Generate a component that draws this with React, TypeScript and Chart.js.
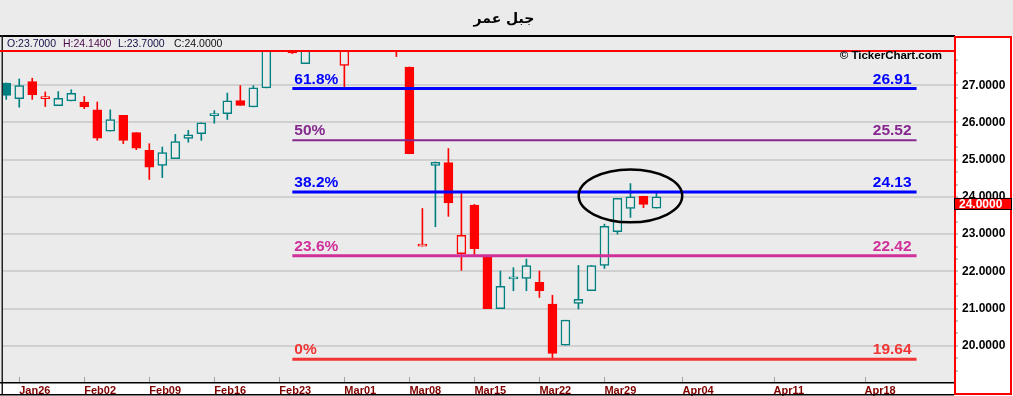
import React, { useEffect, useRef } from 'react';
import { Chart, registerables } from 'chart.js';

Chart.register(...registerables);

// ---------- data ----------
const TITLE = 'جبل عمر';
const CREDIT = '© TickerChart.com';

// one entry per trading day, index 0 = Jan23
const OPEN = [
  27.06, 26.64, 27.10, 26.64, 26.45, 26.58, 26.55, 26.34, 25.77, 26.19,
  25.73, 25.25, 24.85, 25.03, 25.57, 25.70, 26.18, 26.24, 26.59, 26.42,
  26.93, 28.30, 28.50, 27.58, 28.30, 28.70, 27.53, 28.20, 28.80, 29.00,
  28.60, 27.49, 22.68, 24.85, 24.92, 22.48, 23.78, 22.39, 21.00, 21.80,
  21.81, 21.71, 21.12, 20.02, 21.14, 21.48, 22.16, 23.07, 23.69, 24.02,
  23.70,
];
const HIGH = [
  27.06, 27.17, 27.19, 26.82, 26.83, 26.88, 26.70, 26.55, 26.34, 26.19,
  25.73, 25.43, 25.34, 25.68, 25.79, 25.99, 26.32, 26.79, 26.99, 26.99,
  28.30, 28.90, 28.60, 28.30, 28.80, 29.00, 28.40, 28.90, 29.20, 29.30,
  28.70, 27.49, 23.69, 24.94, 25.30, 24.09, 23.80, 22.39, 22.01, 22.10,
  22.33, 22.01, 21.36, 20.69, 22.16, 22.16, 23.27, 23.96, 24.36, 24.02,
  24.14,
];
const LOW = [
  26.62, 26.41, 26.62, 26.43, 26.45, 26.58, 26.37, 25.52, 25.77, 25.43,
  25.27, 24.47, 24.52, 25.03, 25.47, 25.52, 25.98, 26.08, 26.46, 26.42,
  26.93, 28.10, 27.85, 27.58, 28.10, 28.30, 26.94, 28.10, 28.50, 28.40,
  27.77, 25.16, 22.68, 23.20, 23.48, 22.03, 22.44, 21.00, 21.00, 21.48,
  21.48, 21.30, 19.64, 20.02, 20.99, 21.48, 22.08, 23.00, 23.45, 23.71,
  23.70,
];
const CLOSE = [
  26.73, 26.99, 26.75, 26.64, 26.65, 26.78, 26.42, 25.58, 26.08, 25.52,
  25.31, 24.80, 25.19, 25.49, 25.67, 25.99, 26.24, 26.58, 26.46, 26.93,
  28.20, 28.60, 27.87, 28.20, 28.70, 28.50, 28.20, 28.80, 29.00, 28.60,
  28.00, 25.16, 22.68, 24.93, 23.84, 22.97, 22.61, 21.00, 21.60, 21.80,
  22.16, 21.48, 19.80, 20.69, 21.25, 22.16, 23.21, 23.96, 24.00, 23.80,
  24.00,
];
const PREV_CLOSE = 26.60;

const X_TICK_POS = [1, 6, 11, 16, 21, 26, 31, 36, 41, 46, 52, 59, 66];
const X_TICK_LABELS = [
  'Jan26', 'Feb02', 'Feb09', 'Feb16', 'Feb23', 'Mar01', 'Mar08',
  'Mar15', 'Mar22', 'Mar29', 'Apr04', 'Apr11', 'Apr18',
];

const FIB_LABELS = ['61.8%', '50%', '38.2%', '23.6%', '0%'];
const FIB_VALUES = [26.91, 25.52, 24.13, 22.42, 19.64];
const FIB_COLORS = ['#0000ff', '#86288f', '#0000ff', '#d0309a', '#f23434'];
const FIB_WIDTHS = [3, 2, 3, 3, 3];
const FIB_FROM = 22;
const FIB_TO = 70;

const ELLIPSE = { x: 48, y: 24.03, rx: 3.98, ry: 0.71 };

const X_MIN = -0.25;
const X_MAX = 72.88;
const Y_MIN = 19.03;
const Y_MAX = 27.92;
const Y_TICK_STEP = 1 / 3;

// ---------- styles ----------
const BG = '#ebebeb';
const TEAL = '#008080';
const RED = '#ff0000';
const FONT = 'Liberation Sans';

const isInt = (v: number) => Math.abs(v - Math.round(v)) < 1e-6;
const candleColor = (i: number) =>
  CLOSE[i] >= (i === 0 ? PREV_CLOSE : CLOSE[i - 1]) ? TEAL : RED;
const isFilled = (i: number) => CLOSE[i] < OPEN[i];

const decor = {
  id: 'decor',
  beforeDraw(chart: any) {
    const { ctx, width, height, chartArea: a } = chart;
    ctx.save();
    ctx.fillStyle = BG;
    ctx.fillRect(0, 0, width, height);
    ctx.fillStyle = '#ffffff';
    ctx.fillRect(0, a.bottom, a.right, height - a.bottom);
    ctx.fillRect(a.right, 36, width - a.right, height - 36);
    ctx.restore();
  },
  afterDraw(chart: any) {
    const { ctx, width, chartArea: a } = chart;
    const xs = chart.scales.x;
    const ys = chart.scales.y;
    ctx.save();

    // inner x tick marks
    ctx.strokeStyle = '#a0a0a0';
    ctx.lineWidth = 1;
    X_TICK_POS.forEach((v) => {
      const px = Math.round(xs.getPixelForValue(v)) + 0.5;
      ctx.beginPath();
      ctx.moveTo(px, a.bottom - 5);
      ctx.lineTo(px, a.bottom);
      ctx.stroke();
    });

    // fibonacci labels
    ctx.font = `bold 15.5px "${FONT}"`;
    ctx.textBaseline = 'alphabetic';
    FIB_VALUES.forEach((v, k) => {
      const py = ys.getPixelForValue(v);
      const x0 = xs.getPixelForValue(FIB_FROM);
      const x1 = xs.getPixelForValue(FIB_TO);
      ctx.fillStyle = FIB_COLORS[k];
      ctx.textAlign = 'left';
      ctx.fillText(FIB_LABELS[k], x0 + 2, py - 5);
      ctx.textAlign = 'right';
      ctx.fillText(v.toFixed(2), x1 - 5, py - 5);
    });

    // ellipse annotation
    const cx = xs.getPixelForValue(ELLIPSE.x);
    const cy = ys.getPixelForValue(ELLIPSE.y);
    const rx = Math.abs(xs.getPixelForValue(ELLIPSE.x + ELLIPSE.rx) - cx);
    const ry = Math.abs(ys.getPixelForValue(ELLIPSE.y + ELLIPSE.ry) - cy);
    ctx.beginPath();
    ctx.ellipse(cx, cy, rx, ry, 0, 0, Math.PI * 2);
    ctx.lineWidth = 2.5;
    ctx.strokeStyle = '#000';
    ctx.stroke();

    // frame lines
    ctx.fillStyle = '#000';
    ctx.fillRect(0, 35, a.right + 1, 2);
    ctx.fillStyle = '#222';
    ctx.fillRect(1.5, 35, 1.5, 360);
    ctx.fillStyle = '#000';
    ctx.fillRect(0, a.bottom, a.right, 1.5);
    ctx.fillRect(0, a.bottom + 12, a.right, 1.5);
    ctx.fillStyle = RED;
    ctx.fillRect(0, a.top - 1, a.right, 2);

    // right axis panel border
    ctx.strokeStyle = RED;
    ctx.lineWidth = 2;
    ctx.strokeRect(a.right + 1, 37, width - a.right - 3, 357);

    // last price box
    const last = CLOSE.length - 1;
    const pp = ys.getPixelForValue(CLOSE[last]);
    ctx.fillStyle = RED;
    ctx.fillRect(a.right, pp + 1, 58, 12);
    ctx.strokeStyle = '#000';
    ctx.lineWidth = 1;
    ctx.strokeRect(a.right + 0.5, pp + 1.5, 57, 11);
    ctx.fillStyle = '#fff';
    ctx.font = `bold 12px "${FONT}"`;
    ctx.textAlign = 'left';
    ctx.textBaseline = 'middle';
    ctx.fillText(CLOSE[last].toFixed(4), 959, pp + 7.5);

    // OHLC readout
    ctx.font = `10.5px "${FONT}"`;
    ctx.textBaseline = 'alphabetic';
    const parts = [
      { t: 'O:' + OPEN[last].toFixed(4), x: 7, c: '#101048' },
      { t: 'H:' + HIGH[last].toFixed(4), x: 63, c: '#4a0a4a' },
      { t: 'L:' + LOW[last].toFixed(4), x: 118, c: '#101048' },
      { t: 'C:' + CLOSE[last].toFixed(4), x: 174, c: '#101010' },
    ];
    parts.forEach((p) => {
      ctx.fillStyle = p.c;
      ctx.fillText(p.t, p.x, 47);
    });

    // title
    ctx.fillStyle = '#000';
    ctx.font = 'bold 14px "DejaVu Sans"';
    ctx.textAlign = 'center';
    ctx.textBaseline = 'middle';
    ctx.fillText(TITLE, 504, 19);

    // credit
    ctx.font = `bold 11.5px "${FONT}"`;
    ctx.textAlign = 'right';
    ctx.textBaseline = 'alphabetic';
    ctx.fillText(CREDIT, 942, 59);

    ctx.restore();
  },
};

export default function App() {
  const ref = useRef<HTMLCanvasElement>(null);

  useEffect(() => {
    const canvas = ref.current;
    if (!canvas) return;
    Chart.defaults.font.family = FONT;

    const colors = OPEN.map((_, i) => candleColor(i));
    const wicks = OPEN.map((_, i) => ({ x: i, y: [LOW[i], HIGH[i]] }));
    const bodies = OPEN.map((_, i) => ({ x: i, y: [OPEN[i], CLOSE[i]] }));

    const fibSets = FIB_VALUES.map((v, k) => ({
      type: 'line' as const,
      data: [
        { x: FIB_FROM, y: v },
        { x: FIB_TO, y: v },
      ],
      borderColor: FIB_COLORS[k],
      borderWidth: FIB_WIDTHS[k],
      pointRadius: 0,
      fill: false,
      order: 0,
    }));

    const chart = new Chart(canvas, {
      type: 'bar',
      data: {
        datasets: [
          {
            type: 'bar',
            data: wicks as any,
            backgroundColor: colors,
            borderWidth: 0,
            barThickness: 1,
            grouped: false,
            order: 3,
            clip: 0,
          } as any,
          {
            type: 'bar',
            data: bodies as any,
            backgroundColor: OPEN.map((_, i) => (isFilled(i) ? colors[i] : BG)),
            borderColor: colors,
            borderWidth: 1.5,
            borderSkipped: false,
            barThickness: 9,
            minBarLength: 2,
            grouped: false,
            order: 2,
            clip: 0,
          } as any,
          ...(fibSets as any[]),
        ],
      },
      options: {
        animation: false,
        responsive: true,
        maintainAspectRatio: false,
        events: [],
        layout: { padding: { left: 3, top: 51, right: 0, bottom: 0 } },
        plugins: {
          legend: { display: false },
          tooltip: { enabled: false },
          title: { display: false },
        },
        scales: {
          x: {
            type: 'linear',
            min: X_MIN,
            max: X_MAX,
            bounds: 'data',
            offset: false,
            afterBuildTicks: (s: any) => {
              s.ticks = X_TICK_POS.map((v) => ({ value: v }));
            },
            afterFit: (s: any) => {
              s.height = 14;
            },
            grid: { display: false, drawTicks: false },
            border: { display: false },
            ticks: {
              autoSkip: false,
              maxRotation: 0,
              minRotation: 0,
              align: 'start',
              padding: 2,
              color: '#800000',
              font: { family: FONT, size: 11, weight: 'bold' },
              callback: (v: any) => {
                const k = X_TICK_POS.indexOf(Number(v));
                return k >= 0 ? X_TICK_LABELS[k] : '';
              },
            },
          },
          y: {
            type: 'linear',
            position: 'right',
            min: Y_MIN,
            max: Y_MAX,
            bounds: 'data',
            afterBuildTicks: (s: any) => {
              const t: any[] = [];
              for (let k = Math.ceil(Y_MIN / Y_TICK_STEP); k * Y_TICK_STEP <= Y_MAX; k++) {
                t.push({ value: k * Y_TICK_STEP });
              }
              s.ticks = t;
            },
            afterFit: (s: any) => {
              s.width = 59;
            },
            grid: {
              color: (c: any) => (c.tick && isInt(c.tick.value) ? '#d0d0d0' : 'rgba(0,0,0,0)'),
              lineWidth: 2,
              drawTicks: true,
              tickLength: 4,
              tickColor: '#8c8c8c',
              tickWidth: 1,
            },
            border: { display: false },
            ticks: {
              autoSkip: false,
              padding: 4,
              color: '#000',
              font: { family: FONT, size: 12, weight: 'bold' },
              callback: (v: any) => (isInt(Number(v)) ? Number(v).toFixed(4) : ''),
            },
          },
        },
      } as any,
      plugins: [decor],
    });

    return () => chart.destroy();
  }, []);

  return (
    <div style={{ position: 'fixed', left: 0, top: 0, width: 1013, height: 396 }}>
      <canvas ref={ref} style={{ display: 'block' }} />
    </div>
  );
}
